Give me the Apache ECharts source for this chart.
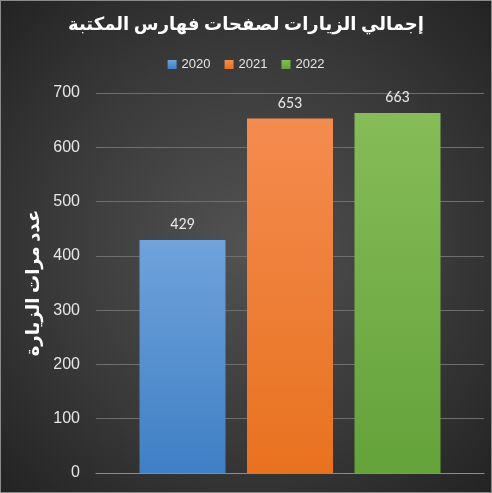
<!DOCTYPE html>
<html><head><meta charset="utf-8">
<script src="https://cdn.jsdelivr.net/npm/echarts@6/dist/echarts.min.js"></script>
<style>html,body{margin:0;padding:0}#c{width:492px;height:493px;box-sizing:border-box;border:1px solid #8a8a8a;
background:radial-gradient(ellipse at center,#525252 0%,#3a3a3a 55%,#232323 100%)}</style>
</head><body><div id="c"></div>
<script>
var years = ['2020', '2021', '2022'];
var visits = [429, 653, 663];
var colors = [['#6fa3dc', '#3f7fc4'], ['#f48b4f', '#e8721f'], ['#86bc58', '#64a23a']];

var chart = echarts.init(document.getElementById('c'));
var series = years.map(function(y, i) {
    return {
        name: y,
        type: 'bar',
        data: [visits[i]],
        barWidth: 86,
        barGap: '25%',
        itemStyle: {
            color: new echarts.graphic.LinearGradient(0, 0, 0, 1, [
                {offset: 0, color: colors[i][0]}, {offset: 1, color: colors[i][1]}
            ])
        },
        label: {show: true, position: 'top', distance: 7, color: '#e6e6e6', fontSize: 16, fontFamily: 'Calibri, Carlito, "DejaVu Sans"'}
    };
});
chart.setOption({
    animation: false,
    color: colors.map(function(c) { return c[1]; }),
    title: {
        text: 'إجمالي الزيارات لصفحات فهارس المكتبة',
        left: 'center', top: 10,
        textStyle: {color: '#ffffff', fontSize: 18, fontWeight: 'bold', fontFamily: '"Noto Sans", "DejaVu Sans"'}
    },
    legend: {
        top: 52, left: 'center', itemWidth: 9, itemHeight: 9, itemGap: 14,
        icon: 'rect',
        textStyle: {color: '#e6e6e6', fontSize: 13}
    },
    grid: {left: 95, right: 7, top: 92, bottom: 19},
    xAxis: {
        type: 'category', data: [''],
        axisLine: {lineStyle: {color: '#8c8c8c'}}, axisTick: {show: false}, axisLabel: {show: false}
    },
    yAxis: {
        type: 'value', min: 0, max: 700, interval: 100,
        name: 'عدد مرات الزيارة', nameLocation: 'middle', nameGap: 50, nameRotate: 90,
        nameTextStyle: {color: '#ffffff', fontSize: 18, fontWeight: 'bold', fontFamily: '"Noto Sans", "DejaVu Sans"'},
        axisLabel: {color: '#e6e6e6', fontSize: 16, margin: 16},
        splitLine: {lineStyle: {color: '#6e6e6e'}},
        axisLine: {show: false}
    },
    series: series
});
</script></body></html>
